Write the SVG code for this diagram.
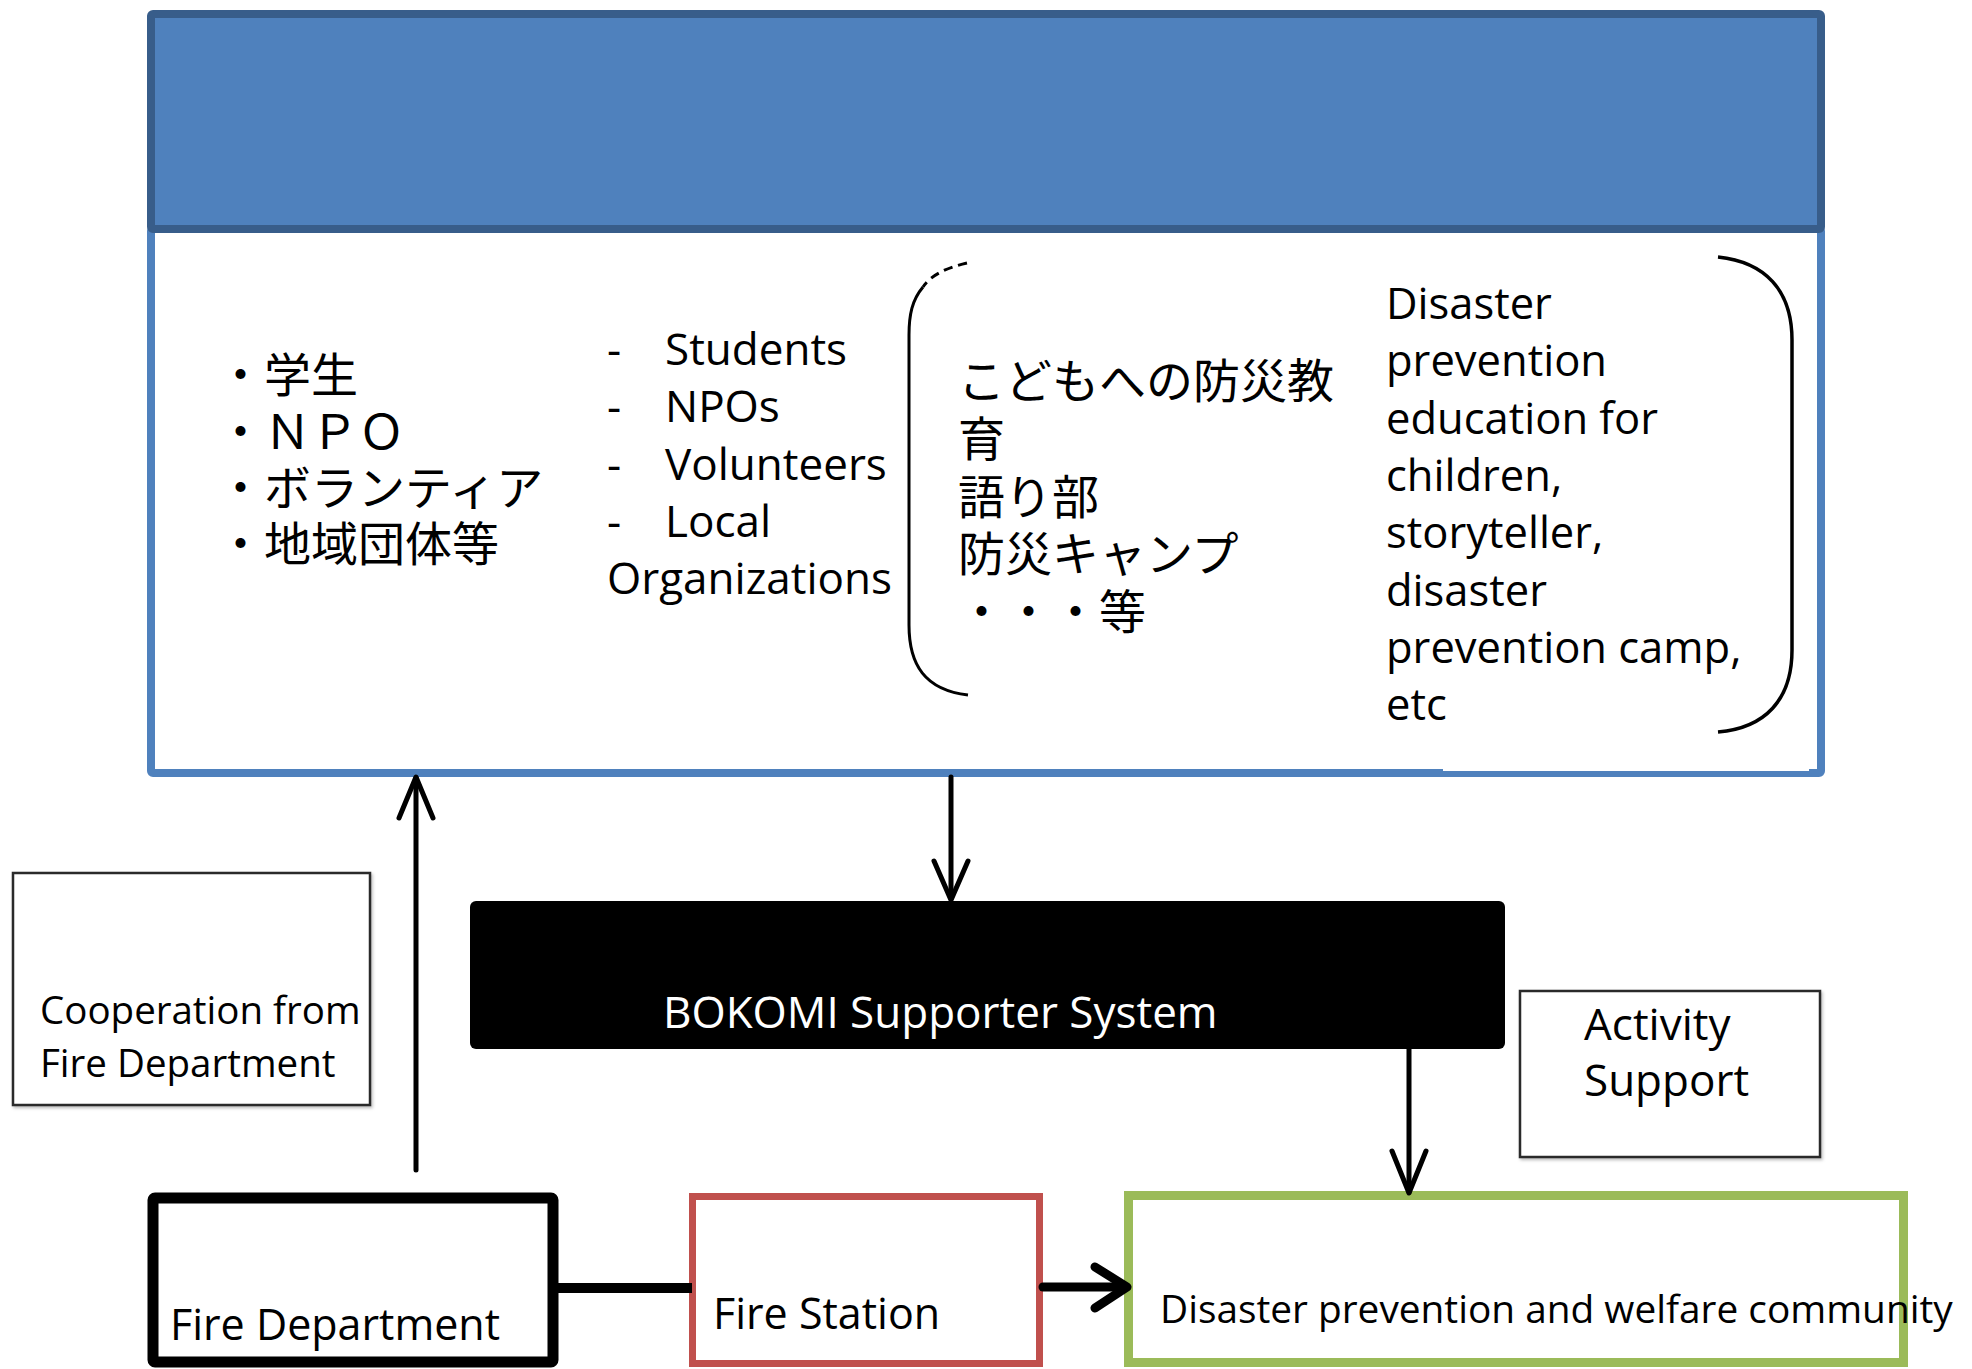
<svg xmlns="http://www.w3.org/2000/svg" width="1972" height="1369" viewBox="0 0 1972 1369">
<defs>
<style>
.en{font-family:"Open Sans","Noto Sans","Liberation Sans",sans-serif;fill:#000}
.jp{font-family:"Noto Sans CJK JP","Noto Sans",sans-serif;font-size:47px;fill:#000}
.thin{fill:#fff;stroke:#2b2b2b;stroke-width:2.5}
.conn{fill:none;stroke:#000;stroke-linecap:round;stroke-linejoin:round}
</style>
<filter id="sh" x="-5%" y="-5%" width="110%" height="110%">
<feDropShadow dx="1.5" dy="2" stdDeviation="1.5" flood-color="#000" flood-opacity="0.25"/>
</filter>
</defs>
<rect width="1972" height="1369" fill="#fff"/>

<g id="top-panel">
<rect x="151" y="229" width="1670" height="544" fill="#fff" stroke="#4f81bd" stroke-width="8" rx="2"/>
<rect x="1443" y="762" width="366" height="9" fill="#fff"/>
<rect x="151" y="14" width="1670" height="215" fill="#4f81bd" stroke="#385d8a" stroke-width="8" rx="2"/>
<text class="jp" x="217" y="392">・学生</text>
<text class="jp" x="217" y="449">・ＮＰＯ</text>
<text class="jp" x="217" y="505">・ボランティア</text>
<text class="jp" x="217" y="561">・地域団体等</text>
<g class="en" font-size="44">
<text x="607" y="365">-</text><text x="665" y="365">Students</text>
<text x="607" y="422">-</text><text x="665" y="422">NPOs</text>
<text x="607" y="480">-</text><text x="665" y="480">Volunteers</text>
<text x="607" y="537">-</text><text x="665" y="537">Local</text>
<text x="607" y="594">Organizations</text>
</g>
<path d="M967 263 C945 268 930 276 923 287" fill="none" stroke="#000" stroke-width="3" stroke-dasharray="9 6"/>
<path d="M923 287 C912 300 909 315 909 335 L909 625 C909 665 925 690 968 695" fill="none" stroke="#000" stroke-width="3"/>
<path d="M1718 257 C1765 262 1792 290 1792 340 L1792 650 C1792 700 1765 728 1718 732" fill="none" stroke="#000" stroke-width="3.5"/>
<text class="jp" x="958" y="398">こどもへの防災教</text>
<text class="jp" x="958" y="456">育</text>
<text class="jp" x="958" y="514">語り部</text>
<text class="jp" x="958" y="571">防災キャンプ</text>
<text class="jp" x="958" y="629">・・・等</text>
<g class="en" font-size="43.5">
<text x="1386" y="319">Disaster</text>
<text x="1386" y="376">prevention</text>
<text x="1386" y="434">education for</text>
<text x="1386" y="491">children,</text>
<text x="1386" y="548">storyteller,</text>
<text x="1386" y="606">disaster</text>
<text x="1386" y="663">prevention camp,</text>
<text x="1386" y="720">etc</text>
</g>
</g>

<g id="cooperation">
<rect class="thin" x="13" y="873" width="357" height="232" filter="url(#sh)"/>
<text class="en" font-size="38.5" x="40" y="1024">Cooperation from</text>
<text class="en" font-size="38.5" x="40" y="1077">Fire Department</text>
</g>

<g id="bokomi">
<rect x="470" y="901" width="1035" height="148" rx="6" fill="#000"/>
<text class="en" font-size="44" x="663" y="1028" style="fill:#fff">BOKOMI Supporter System</text>
</g>

<g id="activity-support">
<rect class="thin" x="1520" y="991" width="300" height="166" filter="url(#sh)"/>
<text class="en" font-size="44" x="1584" y="1040">Activity</text>
<text class="en" font-size="44" x="1584" y="1096">Support</text>
</g>

<g id="fire-department">
<rect x="153" y="1198" width="400" height="164" fill="#fff" stroke="#000" stroke-width="11" rx="2"/>
<text class="en" font-size="43" x="170" y="1340">Fire Department</text>
</g>

<g id="fire-station">
<rect x="692.5" y="1196.5" width="347" height="167" fill="#fff" stroke="#c0504d" stroke-width="7"/>
<text class="en" font-size="43" x="713" y="1329">Fire Station</text>
</g>

<g id="community">
<rect x="1128.5" y="1195.5" width="775" height="167" fill="#fff" stroke="#9bbb59" stroke-width="9"/>
<text class="en" font-size="38.8" x="1160" y="1323">Disaster prevention and welfare community</text>
</g>

<g id="connectors">
<path class="conn" stroke-width="5" d="M416 1170 L416 778"/>
<path class="conn" stroke-width="5" d="M399 818 L416 777 L433 818"/>
<path class="conn" stroke-width="5" d="M951 777 L951 898"/>
<path class="conn" stroke-width="5" d="M934 861 L951 900 L968 861"/>
<path class="conn" stroke-width="5" d="M1409 1049 L1409 1192"/>
<path class="conn" stroke-width="5" d="M1392 1151 L1409 1193 L1426 1151"/>
<path d="M553 1288 L692 1288" stroke="#000" stroke-width="10" fill="none"/>
<path class="conn" stroke-width="9" d="M1043 1287 L1124 1287"/>
<path class="conn" stroke-width="9" d="M1095 1267 L1127 1287 L1095 1308"/>
</g>
</svg>
